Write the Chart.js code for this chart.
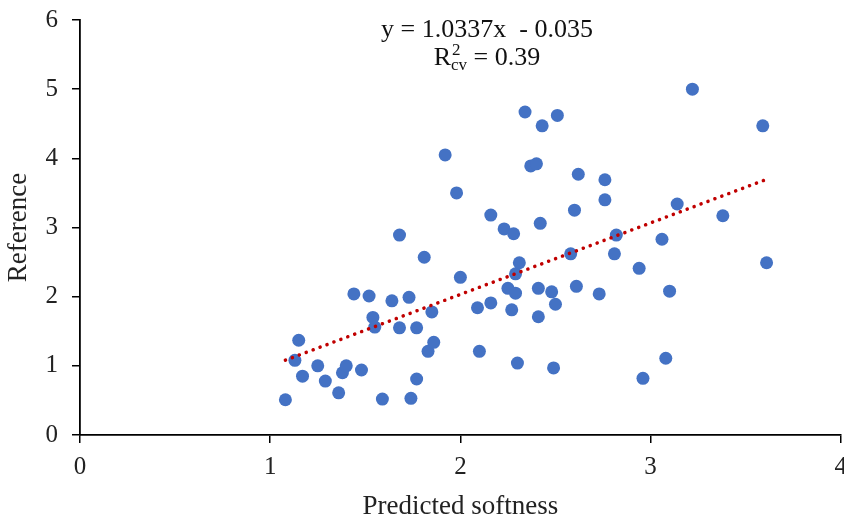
<!DOCTYPE html>
<html>
<head>
<meta charset="utf-8">
<script src="https://cdn.jsdelivr.net/npm/chart.js@4/dist/chart.umd.min.js"></script>
<style>
html,body{margin:0;padding:0;background:#fff;overflow:hidden;}
#wrap{width:844px;height:520px;position:relative;overflow:hidden;}
canvas{display:block;}
</style>
</head>
<body>
<div id="wrap"><canvas id="c" width="844" height="520"></canvas></div>
<script>
const predicted = [1.08,1.15,1.13,1.17,1.25,1.29,1.36,1.38,1.40,1.44,1.48,1.52,1.54,1.55,1.59,1.64,1.68,1.68,1.73,1.74,1.77,1.77,1.81,1.83,1.86,1.85,1.92,1.98,2.00,2.09,2.10,2.16,2.16,2.23,2.25,2.27,2.28,2.29,2.30,2.29,2.31,2.34,2.37,2.40,2.41,2.41,2.42,2.43,2.49,2.48,2.50,2.51,2.58,2.61,2.60,2.62,2.73,2.76,2.76,2.81,2.82,2.94,2.96,3.06,3.08,3.10,3.14,3.22,3.38,3.59,3.61];
const reference = [0.51,1.37,1.08,0.85,1.00,0.78,0.61,0.90,1.00,2.04,0.94,2.01,1.70,1.56,0.52,1.94,1.55,2.89,1.99,0.53,0.81,1.55,2.57,1.21,1.34,1.78,4.05,3.50,2.28,1.84,1.21,3.18,1.91,2.98,2.12,1.81,2.91,2.05,1.04,2.33,2.49,4.67,3.89,3.92,1.71,2.12,3.06,4.47,0.97,2.07,1.89,4.62,2.62,2.15,3.25,3.77,2.04,3.40,3.69,2.62,2.89,2.41,0.82,2.83,1.11,2.08,3.34,5.00,3.17,4.47,2.49];
const slope = 1.0337;
const intercept = -0.035;
const r2cv = "0.39";
const xTicks = [0,1,2,3,4];
const yTicks = [0,1,2,3,4,5,6];

const pts = predicted.map((x,i)=>({x:x,y:reference[i]}));
const xMin = Math.min(...predicted), xMax = Math.max(...predicted);
const trend = [{x:xMin,y:slope*xMin+intercept},{x:xMax,y:slope*xMax+intercept}];

const FONT = "'Liberation Serif','Times New Roman',serif";
const TARGET_RIGHT = 841;

const eqPlugin = {
  id:'eq',
  afterDraw(chart){
    const ctx = chart.ctx;
    const cx = chart.scales.x.getPixelForValue(2.14);
    ctx.save();
    ctx.fillStyle = '#111';
    ctx.textBaseline = 'alphabetic';
    ctx.font = '26px ' + FONT;
    ctx.textAlign = 'center';
    const sgn = intercept < 0 ? ' - ' : ' + ';
    ctx.fillText('y = ' + slope + 'x ' + sgn + Math.abs(intercept), cx, 37);
    const big = '26px ' + FONT, small = '17px ' + FONT;
    ctx.textAlign = 'left';
    ctx.font = big; const wR = ctx.measureText('R').width;
    ctx.font = small; const w2 = ctx.measureText('2').width; const wcv = ctx.measureText('cv').width;
    ctx.font = big; const wRest = ctx.measureText(' = ' + r2cv).width;
    const total = wR + Math.max(w2, wcv) + wRest;
    let x0 = cx - total/2;
    const base = 65;
    ctx.font = big; ctx.fillText('R', x0, base);
    ctx.font = small; ctx.fillText('2', x0 + wR + 1, base - 10);
    ctx.fillText('cv', x0 + wR, base + 5);
    ctx.font = big; ctx.fillText(' = ' + r2cv, x0 + wR + Math.max(w2, wcv), base);
    ctx.restore();
  }
};

function makeConfig(){
  return {
  type:'scatter',
  data:{
    datasets:[
      {label:'data', data:pts, backgroundColor:'#4472C4', borderColor:'#4472C4', pointRadius:6.5, pointHoverRadius:6.5, borderWidth:0, order:2},
      {label:'trend', type:'line', data:trend, borderColor:'#C00000', borderWidth:3.5, borderDash:[0.1,7.3], borderCapStyle:'round', pointRadius:0, fill:false, order:1}
    ]
  },
  options:{
    responsive:false,
    animation:false,
    events:[],
    layout:{padding:{top:20,right:0,left:0,bottom:0}},
    plugins:{legend:{display:false}, tooltip:{enabled:false}},
    scales:{
      x:{
        type:'linear', min:0, max:4,
        afterBuildTicks(s){ s.ticks = xTicks.map(v=>({value:v})); },
        afterFit(s){ s.height = 85; },
        grid:{drawOnChartArea:false, drawTicks:true, tickLength:8, color:'#000', lineWidth:1.5},
        border:{display:true, color:'#000', width:1.8},
        ticks:{color:'#222', font:{family:FONT, size:25}, padding:9, maxRotation:0, autoSkip:false},
        title:{display:true, text:'Predicted softness', color:'#222', font:{family:FONT, size:27}, padding:{top:0,bottom:-3}}
      },
      y:{
        type:'linear', min:0, max:6,
        afterBuildTicks(s){ s.ticks = yTicks.map(v=>({value:v})); },
        afterFit(s){ s.width = 80; s.paddingTop = 0; s.paddingBottom = 0; },
        grid:{drawOnChartArea:false, drawTicks:true, tickLength:8, color:'#000', lineWidth:1.5},
        border:{display:true, color:'#000', width:1.8},
        ticks:{color:'#222', font:{family:FONT, size:25}, padding:14, autoSkip:false},
        title:{display:true, text:'Reference', color:'#222', font:{family:FONT, size:27}, padding:{top:3,bottom:4}}
      }
    }
  },
  plugins:[eqPlugin]
  };
}

const canvas = document.getElementById('c');
let chart = new Chart(canvas, makeConfig());
const gap = canvas.width - chart.chartArea.right;
chart.destroy();
const c2 = document.createElement('canvas');
c2.width = Math.round(TARGET_RIGHT + gap);
c2.height = 520;
canvas.replaceWith(c2);
chart = new Chart(c2, makeConfig());
</script>
</body>
</html>
